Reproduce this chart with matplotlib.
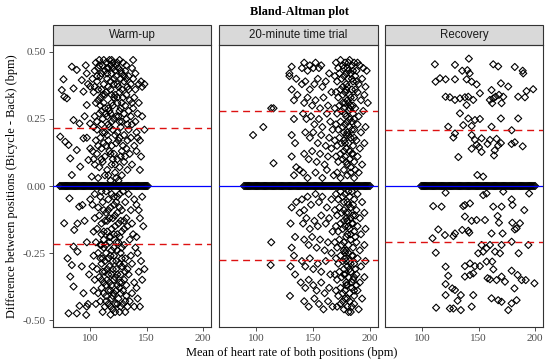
import matplotlib.pyplot as plt
from matplotlib.patches import Rectangle

# Bland-Altman data (mean HR, difference)
panels = ['Warm-up', '20-minute time trial', 'Recovery']

warmup_points = [
    (76.3, 0.398), (74.8, 0.358), (77, 0.333), (79.3, 0.327), (83.7, 0.445), (88.1, 0.433),
    (85.2, 0.364), (80.8, 0.153), (73.4, 0.184), (77.9, 0.165), (85.2, 0.246), (90.5, 0.233),
    (82.3, 0.103), (83.7, 0.041), (88.1, 0.134), (92.5, 0.395), (94, 0.352), (96.9, 0.42),
    (99.9, 0.233), (96.9, 0.302), (99.9, 0.371), (94, 0.178), (91.1, 0.072), (98.4, 0.097),
    (101.3, 0.035),
    (105, 0.46), (108, 0.47), (111, 0.45), (114, 0.46), (117, 0.47), (120, 0.46), (123, 0.45),
    (126, 0.47), (129, 0.46), (132, 0.45), (104, 0.43), (107, 0.44), (110, 0.42), (113, 0.43),
    (116, 0.44), (119, 0.42), (122, 0.43), (125, 0.44), (128, 0.42), (131, 0.43), (134, 0.41),
    (137, 0.44), (102, 0.40), (106, 0.39), (109, 0.41), (112, 0.38), (115, 0.40), (118, 0.39),
    (121, 0.40), (124, 0.38), (127, 0.40), (130, 0.39), (133, 0.37), (136, 0.38), (140, 0.36),
    (143, 0.38), (146, 0.37), (103, 0.35), (107, 0.36), (111, 0.34), (114, 0.35), (118, 0.36),
    (122, 0.34), (126, 0.35), (129, 0.33), (132, 0.34), (135, 0.32), (139, 0.33), (105, 0.31),
    (109, 0.30), (112, 0.31), (116, 0.29), (120, 0.30), (124, 0.31), (127, 0.29), (131, 0.30),
    (134, 0.28), (138, 0.29), (142, 0.27), (104, 0.26), (108, 0.27), (111, 0.25), (115, 0.26),
    (118, 0.27), (121, 0.25), (125, 0.26), (128, 0.24), (132, 0.25), (136, 0.26), (140, 0.24),
    (103, 0.22), (106, 0.21), (110, 0.23), (113, 0.20), (117, 0.22), (120, 0.21), (124, 0.20),
    (127, 0.22), (130, 0.19), (134, 0.21), (137, 0.23), (141, 0.20), (144, 0.17), (105, 0.17),
    (109, 0.18), (112, 0.16), (116, 0.17), (119, 0.15), (123, 0.16), (126, 0.18), (129, 0.15),
    (133, 0.17), (139, 0.15), (102, 0.13), (106, 0.12), (110, 0.14), (113, 0.11), (117, 0.13),
    (121, 0.12), (124, 0.10), (128, 0.13), (131, 0.11), (135, 0.12), (104, 0.08), (108, 0.07),
    (111, 0.09), (115, 0.06), (119, 0.08), (122, 0.05), (126, 0.07), (130, 0.09), (133, 0.06),
    (137, 0.08), (107, 0.03), (113, 0.04), (118, 0.02), (123, 0.03), (128, 0.04), (120, 0.44),
    (118, 0.45), (123, 0.41), (125, 0.37), (121, 0.33), (117, 0.28), (122, 0.19), (120, 0.10),
    (115, 0.42), (128, 0.36), (113, 0.29), (126, 0.28), (116, 0.23), (110, 0.36), (119, 0.31),
    (145, 0.39), (148, 0.38), (142, 0.18), (145, 0.11),
    (112, 0.47), (115, 0.44), (119, 0.47), (124, 0.46), (127, 0.43), (130, 0.41), (121, 0.38),
    (116, 0.37), (113, 0.34), (109, 0.33), (119, 0.34), (124, 0.33), (128, 0.31), (110, 0.28),
    (114, 0.27), (123, 0.26), (126, 0.24), (119, 0.24), (111, 0.20), (115, 0.19), (125, 0.17),
    (118, 0.12), (114, 0.15), (127, 0.11), (122, 0.08), (110, 0.10), (116, 0.04), (125, 0.02),
    (132, 0.40), (134, 0.36), (138, 0.40), (137, 0.31), (130, 0.27), (133, 0.23), (136, 0.18),
    (132, 0.14), (108, 0.45), (106, 0.41), (104, 0.37), (107, 0.32), (106, 0.24), (107, 0.15),
    (103, 0.10),
    (140, 0.42), (143, 0.31), (146, 0.26), (148, 0.21), (141, 0.13), (144, 0.06), (138, 0.47),
    (96, 0.45), (98, 0.38), (97, 0.18), (95, 0.26), (100, 0.14),
    (81.6, -0.046), (76.9, -0.139), (79.9, -0.27), (83.7, -0.295), (82.3, -0.338), (85.2, -0.375),
    (80.8, -0.475), (88.1, -0.475), (90.5, -0.447), (85.8, -0.164), (88.7, -0.14), (90.2, -0.077),
    (93.1, -0.071), (85.2, -0.226), (96.9, -0.45), (96.4, -0.481), (94, -0.4), (88.7, -0.245),
    (92.5, -0.3),
    (104, -0.03), (109, -0.04), (114, -0.02), (119, -0.03), (124, -0.04), (129, -0.02), (134, -0.03),
    (139, -0.05), (146, -0.04), (102, -0.07), (107, -0.08), (111, -0.06), (116, -0.09), (121, -0.07),
    (126, -0.08), (131, -0.06), (136, -0.09), (141, -0.07), (104, -0.12), (108, -0.11), (113, -0.13),
    (117, -0.12), (122, -0.11), (127, -0.13), (132, -0.12), (137, -0.14), (144, -0.12), (103, -0.17),
    (106, -0.16), (110, -0.18), (115, -0.17), (119, -0.16), (124, -0.18), (128, -0.17), (133, -0.15),
    (138, -0.18), (105, -0.21), (109, -0.22), (112, -0.20), (117, -0.21), (121, -0.23), (125, -0.21),
    (130, -0.22), (135, -0.20), (140, -0.23), (103, -0.26), (107, -0.25), (111, -0.27), (114, -0.25),
    (118, -0.26), (123, -0.28), (127, -0.25), (131, -0.27), (136, -0.26), (142, -0.25), (102, -0.30),
    (106, -0.31), (110, -0.29), (113, -0.32), (117, -0.30), (120, -0.31), (124, -0.33), (128, -0.30),
    (133, -0.31), (137, -0.29), (143, -0.32), (104, -0.35), (108, -0.34), (112, -0.36), (115, -0.35),
    (119, -0.37), (122, -0.34), (126, -0.36), (130, -0.35), (134, -0.33), (139, -0.36), (146, -0.35),
    (103, -0.39), (107, -0.40), (110, -0.38), (114, -0.41), (118, -0.39), (121, -0.40), (125, -0.42),
    (129, -0.39), (132, -0.41), (137, -0.40), (141, -0.38), (105, -0.44), (109, -0.43), (113, -0.45),
    (116, -0.44), (120, -0.46), (124, -0.44), (127, -0.45), (131, -0.47), (135, -0.43), (139, -0.45),
    (111, -0.47), (118, -0.48), (122, -0.47), (129, -0.44), (120, -0.28), (118, -0.19), (122, -0.15),
    (124, -0.24), (116, -0.33), (126, -0.38), (114, -0.10), (128, -0.27), (119, -0.42), (123, -0.06),
    (112, -0.23), (130, -0.16),
    (110, -0.02), (116, -0.05), (121, -0.04), (126, -0.03), (112, -0.09), (118, -0.08), (124, -0.10),
    (128, -0.09), (110, -0.14), (115, -0.13), (120, -0.12), (125, -0.14), (130, -0.13), (112, -0.17),
    (117, -0.19), (121, -0.18), (126, -0.19), (110, -0.22), (114, -0.22), (119, -0.24), (123, -0.21),
    (128, -0.23), (109, -0.27), (113, -0.28), (116, -0.27), (121, -0.26), (126, -0.29), (130, -0.29),
    (111, -0.32), (115, -0.31), (119, -0.33), (123, -0.31), (127, -0.33), (131, -0.32), (110, -0.35),
    (114, -0.37), (117, -0.36), (121, -0.35), (124, -0.37), (128, -0.36), (132, -0.37), (112, -0.40),
    (116, -0.39), (120, -0.41), (123, -0.39), (127, -0.40), (131, -0.43), (114, -0.43), (118, -0.45),
    (122, -0.44), (126, -0.47), (133, -0.45),
    (143, -0.09), (147, -0.15), (141, -0.19), (145, -0.28), (148, -0.31), (142, -0.42), (144, -0.45),
    (97, -0.21), (99, -0.33), (95, -0.13), (98, -0.44), (100, -0.05),
]

trial_points = [
    (97, 0.19), (106, 0.22), (113, 0.29), (115, 0.29), (115, 0.085),
    (129, 0.41), (129, 0.42), (135, 0.40), (131, 0.445), (133, 0.32), (131, 0.36), (136, 0.34),
    (133, 0.25), (131, 0.19), (134, 0.16), (131, 0.11), (135, 0.07), (133, 0.04), (138, 0.06),
    (140, 0.44), (142, 0.46), (145, 0.43), (147, 0.45), (150, 0.44), (152, 0.46), (155, 0.44),
    (157, 0.45), (140, 0.38), (143, 0.39), (147, 0.36), (151, 0.38), (154, 0.40), (158, 0.37),
    (161, 0.39), (164, 0.42), (142, 0.31), (145, 0.33), (149, 0.30), (152, 0.32), (156, 0.29),
    (159, 0.33), (163, 0.30), (166, 0.35), (141, 0.27), (144, 0.25), (148, 0.26), (151, 0.23),
    (155, 0.25), (158, 0.22), (162, 0.27), (165, 0.24), (143, 0.20), (147, 0.18), (150, 0.20),
    (154, 0.16), (157, 0.19), (161, 0.15), (164, 0.18), (167, 0.21), (142, 0.12), (146, 0.10),
    (149, 0.13), (153, 0.09), (156, 0.12), (160, 0.08), (163, 0.11), (166, 0.14), (141, 0.05),
    (145, 0.03), (152, 0.05), (158, 0.03), (162, 0.06), (168, 0.04),
    (170, 0.46), (172, 0.44), (174, 0.47), (176, 0.45), (178, 0.46), (180, 0.44), (182, 0.47),
    (184, 0.45), (186, 0.46), (188, 0.43), (191, 0.45), (194, 0.44), (197, 0.43), (169, 0.41),
    (171, 0.39), (173, 0.42), (175, 0.40), (177, 0.41), (179, 0.38), (181, 0.40), (183, 0.42),
    (185, 0.39), (187, 0.41), (190, 0.38), (193, 0.40), (196, 0.37), (170, 0.35), (172, 0.33),
    (174, 0.36), (176, 0.34), (178, 0.35), (180, 0.32), (182, 0.34), (184, 0.36), (186, 0.33),
    (189, 0.35), (192, 0.32), (195, 0.34), (198, 0.31), (169, 0.29), (171, 0.27), (173, 0.30),
    (175, 0.28), (177, 0.29), (179, 0.26), (181, 0.28), (183, 0.30), (185, 0.27), (187, 0.29),
    (190, 0.26), (194, 0.28), (170, 0.23), (172, 0.21), (174, 0.24), (176, 0.22), (178, 0.23),
    (180, 0.20), (182, 0.22), (184, 0.24), (186, 0.21), (189, 0.23), (192, 0.20), (196, 0.22),
    (169, 0.17), (171, 0.15), (173, 0.18), (175, 0.16), (177, 0.17), (179, 0.14), (181, 0.16),
    (183, 0.18), (185, 0.15), (188, 0.17), (191, 0.14), (195, 0.16), (170, 0.11), (172, 0.09),
    (174, 0.12), (176, 0.10), (178, 0.11), (180, 0.08), (182, 0.10), (184, 0.12), (186, 0.09),
    (189, 0.11), (193, 0.08), (171, 0.05), (174, 0.03), (177, 0.06), (180, 0.04), (183, 0.05),
    (186, 0.03), (190, 0.05), (178, 0.31), (180, 0.37), (182, 0.25), (179, 0.19), (181, 0.43),
    (177, 0.13),
    (177, 0.44), (181, 0.46), (185, 0.43), (189, 0.46), (179, 0.42), (184, 0.40), (188, 0.39),
    (176, 0.37), (179, 0.36), (183, 0.33), (187, 0.36), (181, 0.31), (185, 0.30), (176, 0.31),
    (178, 0.27), (182, 0.29), (186, 0.25), (180, 0.24), (184, 0.21), (177, 0.20), (181, 0.19),
    (186, 0.18), (178, 0.16), (182, 0.13), (185, 0.12), (179, 0.09), (183, 0.07), (187, 0.06),
    (113, -0.21), (112.5, -0.295),
    (131, -0.08), (135, -0.06), (130, -0.14), (134, -0.19), (131, -0.23), (133, -0.26), (130, -0.30),
    (134, -0.33), (129.5, -0.41), (138, -0.10), (140, -0.05), (142, -0.09), (145, -0.04), (148, -0.07),
    (152, -0.03), (155, -0.06), (158, -0.04), (162, -0.08), (166, -0.05), (141, -0.14), (144, -0.12),
    (147, -0.16), (151, -0.13), (154, -0.15), (157, -0.11), (161, -0.14), (164, -0.12), (167, -0.17),
    (142, -0.20), (146, -0.22), (149, -0.19), (153, -0.23), (156, -0.20), (160, -0.24), (163, -0.21),
    (166, -0.25), (140, -0.28), (143, -0.30), (147, -0.27), (150, -0.31), (154, -0.29), (157, -0.32),
    (161, -0.28), (165, -0.33), (139, -0.36), (143, -0.38), (146, -0.35), (150, -0.37), (153, -0.39),
    (157, -0.36), (160, -0.40), (164, -0.38), (142, -0.43), (146, -0.45), (151, -0.42), (155, -0.44),
    (159, -0.46), (163, -0.43), (167, -0.45),
    (170, -0.03), (172, -0.05), (174, -0.02), (176, -0.04), (178, -0.03), (180, -0.06), (182, -0.04),
    (184, -0.02), (186, -0.05), (189, -0.03), (193, -0.06), (169, -0.09), (171, -0.11), (173, -0.08),
    (175, -0.10), (177, -0.09), (179, -0.12), (181, -0.10), (183, -0.08), (185, -0.11), (188, -0.09),
    (191, -0.12), (195, -0.10), (170, -0.15), (172, -0.17), (174, -0.14), (176, -0.16), (178, -0.15),
    (180, -0.18), (182, -0.16), (184, -0.14), (186, -0.17), (189, -0.15), (192, -0.18), (196, -0.16),
    (169, -0.21), (171, -0.23), (173, -0.20), (175, -0.22), (177, -0.21), (179, -0.24), (181, -0.22),
    (183, -0.20), (185, -0.23), (188, -0.21), (191, -0.24), (195, -0.22), (170, -0.27), (172, -0.29),
    (174, -0.26), (176, -0.28), (178, -0.27), (180, -0.30), (182, -0.28), (184, -0.26), (186, -0.29),
    (189, -0.27), (192, -0.30), (196, -0.28), (169, -0.33), (171, -0.35), (173, -0.32), (175, -0.34),
    (177, -0.33), (179, -0.36), (181, -0.34), (183, -0.32), (185, -0.35), (188, -0.33), (191, -0.36),
    (195, -0.34), (170, -0.39), (172, -0.41), (174, -0.38), (176, -0.40), (178, -0.39), (180, -0.42),
    (182, -0.40), (184, -0.38), (186, -0.41), (189, -0.39), (193, -0.42), (171, -0.45), (174, -0.44),
    (177, -0.46), (180, -0.45), (183, -0.47), (186, -0.44), (190, -0.46), (178, -0.25), (180, -0.13),
    (179, -0.37), (181, -0.07), (177, -0.31),
    (177, -0.06), (181, -0.02), (185, -0.07), (179, -0.10), (183, -0.12), (187, -0.11), (177, -0.13),
    (181, -0.15), (185, -0.14), (179, -0.19), (183, -0.18), (187, -0.19), (177, -0.24), (181, -0.25),
    (185, -0.26), (179, -0.28), (183, -0.29), (187, -0.31), (178, -0.33), (182, -0.31), (186, -0.34),
    (180, -0.37), (184, -0.36), (188, -0.37), (178, -0.42), (182, -0.43), (186, -0.39), (181, -0.47),
    (184, -0.45), (176, -0.43),
]

recovery_points = [
    (111.2, 0.454), (129, 0.452), (141.3, 0.475), (135.4, 0.43), (140, 0.432), (142, 0.42),
    (162.9, 0.454), (167.3, 0.446), (182, 0.444), (189, 0.43), (189.5, 0.42), (111.8, 0.389),
    (115.7, 0.402), (120.7, 0.398), (129, 0.398), (139.3, 0.398), (143.8, 0.389), (148.2, 0.379),
    (169.7, 0.383), (176.2, 0.371), (198.3, 0.361), (192.4, 0.354), (120.7, 0.333), (124.5, 0.331),
    (129, 0.321), (133.4, 0.327), (137.8, 0.331), (140.8, 0.333), (145.2, 0.321), (151.1, 0.346),
    (139.3, 0.302), (133.4, 0.271), (161.4, 0.358), (159.9, 0.321), (162.9, 0.327), (165, 0.333),
    (168, 0.34), (171.8, 0.333), (162, 0.309), (170.3, 0.309), (185, 0.333), (191, 0.331),
    (140.8, 0.252), (146.7, 0.246), (151.1, 0.25), (136.3, 0.227), (143.8, 0.224), (169.7, 0.252),
    (185, 0.252), (123, 0.221), (161.4, 0.221), (179.2, 0.208), (129, 0.196), (127.6, 0.181),
    (143.8, 0.19), (146.7, 0.172), (152.6, 0.178), (160, 0.172), (165.9, 0.176), (148.2, 0.154),
    (150.3, 0.145), (143.8, 0.139), (152.6, 0.127), (157.9, 0.157), (167.3, 0.151), (169.7, 0.16),
    (164.2, 0.133), (163.6, 0.114), (179.2, 0.157), (182, 0.163), (189, 0.148), (132, 0.108),
    (148.8, 0.041), (154, 0.035),
    (120.7, -0.025), (154, -0.034), (157, -0.028), (171.8, -0.021), (194.7, -0.028), (109.7, -0.075),
    (117.1, -0.077), (136.3, -0.075), (137.8, -0.071), (142.3, -0.065), (162.9, -0.077), (170.3, -0.077),
    (179.2, -0.05), (180, -0.071), (190.4, -0.09), (137.8, -0.114), (143.8, -0.13), (148.2, -0.127),
    (155.6, -0.127), (166.8, -0.112), (168, -0.137), (179.8, -0.137), (186.6, -0.139), (114.2, -0.162),
    (120.1, -0.183), (129, -0.177), (135.4, -0.164), (140.8, -0.167), (141.7, -0.174), (161.4, -0.177),
    (171.2, -0.177), (182, -0.162), (183.6, -0.158), (109.1, -0.195), (127.6, -0.187), (152.6, -0.22),
    (160, -0.22), (170.3, -0.22), (179.2, -0.208), (194, -0.22), (112, -0.249), (149.6, -0.251),
    (154, -0.245), (157, -0.232), (164.5, -0.245), (168.9, -0.251), (185.4, -0.251), (120.7, -0.301),
    (137.8, -0.299), (142.3, -0.289), (146.7, -0.299), (151.1, -0.299), (157, -0.282), (162, -0.282),
    (163, -0.311), (145.2, -0.326), (137.8, -0.338), (142.3, -0.332), (123, -0.335), (157.9, -0.344),
    (160, -0.348), (165.9, -0.351), (170.3, -0.338), (173.3, -0.357), (179.2, -0.316), (184.5, -0.332),
    (188.1, -0.351), (191.7, -0.351), (199.4, -0.363), (120.7, -0.366), (129, -0.388), (126.6, -0.382),
    (134.2, -0.407), (145.2, -0.407), (120.7, -0.407), (131.3, -0.428), (124.5, -0.457), (112.3, -0.454),
    (127.6, -0.457), (143.8, -0.45), (134.2, -0.463), (161.4, -0.419), (167.3, -0.426), (170.3, -0.432),
    (179.2, -0.438), (183.6, -0.426), (176.2, -0.463), (181.7, -0.382),
]

# means of pairs with zero difference (they form the thick band at 0)
warmup_zero = [73, 74, 75, 76, 77, 78, 79, 80, 81, 82, 83, 84, 85, 86, 87, 88, 89, 90, 91, 92,
               93, 94, 95, 96, 97, 98, 99, 100, 101, 102, 103, 104, 105, 106, 107, 108, 109,
               110, 111, 112, 113, 114, 115, 116, 117, 118, 119, 120, 121, 122, 123, 124, 125,
               126, 127, 128, 129, 130, 131, 132, 133, 134, 135, 136, 137, 138, 139, 140, 141,
               142, 143, 144, 145, 146, 147, 148, 149, 150, 151]
trial_zero = [89, 90, 91, 92, 93, 94, 95, 96, 97, 98, 99, 100, 101, 102, 103, 104, 105, 106,
              107, 108, 109, 110, 111, 112, 113, 114, 115, 116, 117, 118, 119, 120, 121, 122,
              123, 124, 125, 126, 127, 128, 129, 130, 131, 132, 133, 134, 135, 136, 137, 138,
              139, 140, 141, 142, 143, 144, 145, 146, 147, 148, 149, 150, 151, 152, 153, 154,
              155, 156, 157, 158, 159, 160, 161, 162, 163, 164, 165, 166, 167, 168, 169, 170,
              171, 172, 173, 174, 175, 176, 177, 178, 179, 180, 181, 182, 183, 184, 185, 186,
              187, 188, 189, 190, 191, 192, 193, 194, 195, 196, 197, 198, 199, 200]
recovery_zero = [99, 100, 101, 102, 103, 104, 105, 106, 107, 108, 109, 110, 111, 112, 113, 114,
                 115, 116, 117, 118, 119, 120, 121, 122, 123, 124, 125, 126, 127, 128, 129, 130,
                 131, 132, 133, 134, 135, 136, 137, 138, 139, 140, 141, 142, 143, 144, 145, 146,
                 147, 148, 149, 150, 151, 152, 153, 154, 155, 156, 157, 158, 159, 160, 161, 162,
                 163, 164, 165, 166, 167, 168, 169, 170, 171, 172, 173, 174, 175, 176, 177, 178,
                 179, 180, 181, 182, 183, 184, 185, 186, 187, 188, 189, 190, 191, 192, 193, 194,
                 195, 196, 197, 198, 199, 200]

mean_bias = [0.0, 0.0, 0.0]
upper_loa = [0.218, 0.279, 0.209]
lower_loa = [-0.218, -0.277, -0.209]

all_points = [warmup_points, trial_points, recovery_points]
all_zero = [warmup_zero, trial_zero, recovery_zero]

serif = 'Liberation Serif'
fig = plt.figure(figsize=(5.5, 3.63), dpi=100)

lefts = [53, 219, 385]
widths = [158, 159, 158]
bottom = (363 - 327) / 363
height = 282 / 363

for i, name in enumerate(panels):
    ax = fig.add_axes([lefts[i] / 550, bottom, widths[i] / 550, height])
    xs = [p[0] for p in all_points[i]] + all_zero[i]
    ys = [p[1] for p in all_points[i]] + [0.0] * len(all_zero[i])
    ax.scatter(xs, ys, marker='D', s=13, facecolors='none', edgecolors='black',
               linewidths=0.8, zorder=2)
    ax.axhline(mean_bias[i], color='blue', lw=0.9, zorder=3)
    ax.axhline(upper_loa[i], color='#dd1111', lw=1.0, ls=(0, (5, 3.5)), zorder=3)
    ax.axhline(lower_loa[i], color='#dd1111', lw=1.0, ls=(0, (5, 3.5)), zorder=3)

    ax.set_xlim(67, 207)
    ax.set_ylim(-0.526, 0.526)
    ax.set_xticks([100, 150, 200])
    ax.set_yticks([-0.5, -0.25, 0, 0.25, 0.5])
    ax.tick_params(length=3, width=0.6, color='#333333', labelcolor='#4d4d4d',
                   labelsize=8, pad=2)
    for lab in ax.get_xticklabels() + ax.get_yticklabels():
        lab.set_family(serif)
    if i == 0:
        ax.set_yticklabels(['-0.50', '-0.25', '0.00', '0.25', '0.50'])
    else:
        ax.tick_params(axis='y', left=False, labelleft=False)
    for sp in ax.spines.values():
        sp.set_color('#333333')
        sp.set_linewidth(0.8)

    # facet strip
    sh = 20 / 282
    ax.add_patch(Rectangle((0, 1.0), 1, sh, transform=ax.transAxes, clip_on=False,
                           facecolor='#d9d9d9', edgecolor='#333333', lw=0.8))
    ax.text(0.5, 1 + sh / 2, name, transform=ax.transAxes, ha='center', va='center',
            fontsize=8.3, color='#1a1a1a', family='Liberation Sans')

fig.text(0.545, 0.967, 'Bland-Altman plot', ha='center', va='center', fontsize=8.8,
         fontweight='bold', family=serif)
fig.text(0.53, 0.028, 'Mean of heart rate of both positions (bpm)', ha='center', va='center',
         fontsize=8.9, family=serif)
fig.text(0.022, 0.4876, 'Difference between positions (Bicycle - Back) (bpm)', ha='center',
         va='center', rotation=90, fontsize=8.9, family=serif)

fig.savefig('out.png', dpi=100)
